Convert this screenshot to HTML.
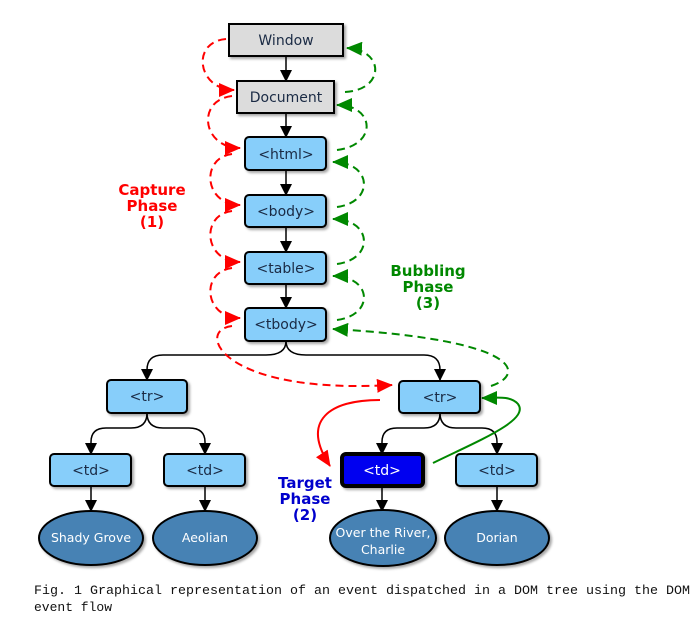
<!DOCTYPE html>
<html><head><meta charset="utf-8"><style>
body{margin:0;background:#fff;width:697px;height:622px;overflow:hidden}
svg{display:block}
.b{font-family:"DejaVu Sans","Liberation Sans",sans-serif;font-size:14px;fill:#1a2a44;text-anchor:middle}
.e{font-family:"DejaVu Sans","Liberation Sans",sans-serif;font-size:12.5px;fill:#fff;text-anchor:middle}
.ph{font-family:"DejaVu Sans","Liberation Sans",sans-serif;font-size:15px;font-weight:bold;text-anchor:middle}
.cap{font-family:"Liberation Mono",monospace;font-size:13px;fill:#111}
</style></head><body>
<svg width="697" height="622" viewBox="0 0 697 622">
<defs>
<marker id="ak" markerWidth="12" markerHeight="12" refX="11" refY="6" orient="auto" markerUnits="userSpaceOnUse"><path d="M0,0 L12,6 L0,12z" fill="#000"/></marker>
<marker id="ar" markerWidth="16" markerHeight="14" refX="15" refY="7" orient="auto" markerUnits="userSpaceOnUse"><path d="M0,0 L16,7 L0,14z" fill="#f00"/></marker>
<marker id="ag" markerWidth="16" markerHeight="14" refX="15" refY="7" orient="auto" markerUnits="userSpaceOnUse"><path d="M0,0 L16,7 L0,14z" fill="#080"/></marker>
<filter id="sh" x="-10%" y="-10%" width="130%" height="140%"><feDropShadow dx="2" dy="2" stdDeviation="1.2" flood-color="#000" flood-opacity="0.35"/></filter>
</defs>
<g stroke="#000" stroke-width="1.5" fill="none" marker-end="url(#ak)">
<path d="M286 56 L286 81"/><path d="M286 113 L286 137"/><path d="M286 170 L286 195"/><path d="M286 227 L286 252"/><path d="M286 284 L286 308"/>
<path d="M286 341 Q286 355 266 355 L163 355 Q147 355 147 370 L147 380"/>
<path d="M286 341 Q286 355 306 355 L424 355 Q440 355 440 370 L440 380"/>
<path d="M147 413 Q147 428 131 428 L106 428 Q91 428 91 442 L91 454"/>
<path d="M147 413 Q147 428 163 428 L189 428 Q205 428 205 442 L205 454"/>
<path d="M440 413 Q440 428 424 428 L397 428 Q382 428 382 442 L382 454"/>
<path d="M440 413 Q440 428 456 428 L482 428 Q497 428 497 442 L497 454"/>
<path d="M91 486 L91 511"/><path d="M205 486 L205 511"/><path d="M382 487 L382 511"/><path d="M497 486 L497 511"/>
</g>
<g stroke="#f00" stroke-width="2" fill="none" stroke-dasharray="8,5" marker-end="url(#ar)">
<path d="M226 39 C190 42 198 90 234 90"/>
<path d="M232 96 C196 100 202 148 240 148"/>
<path d="M232 154 C200 158 204 205 240 205"/>
<path d="M232 211 C200 215 204 262 240 262"/>
<path d="M232 268 C200 272 204 318 240 318"/>
<path d="M232 326 C195 330 220 395 392 385"/>
</g>
<path d="M380 400 C330 400 300 420 330 466" stroke="#f00" stroke-width="2" fill="none" marker-end="url(#ar)"/>
<g stroke="#080" stroke-width="2" fill="none" stroke-dasharray="8,5" marker-end="url(#ag)">
<path d="M345 92 C385 90 385 50 347 48"/>
<path d="M337 150 C378 145 375 105 337 105"/>
<path d="M337 207 C375 202 372 162 333 162"/>
<path d="M337 264 C375 259 372 219 333 219"/>
<path d="M337 320 C375 315 372 276 333 276"/>
<path d="M491 386 C525 375 525 340 333 329"/>
</g>
<path d="M433 463 C480 440 530 420 518 404 C510 395 495 398 482 398" stroke="#080" stroke-width="2" fill="none" marker-end="url(#ag)"/>
<g stroke="#000" stroke-width="2" filter="url(#sh)">
<rect x="229" y="24" width="114" height="32" fill="#dcdcdc"/>
<rect x="237" y="81" width="97" height="32" fill="#dcdcdc"/>
<g fill="#87cefa">
<rect x="245" y="137" width="81" height="33" rx="4"/>
<rect x="245" y="195" width="81" height="32" rx="4"/>
<rect x="245" y="252" width="81" height="32" rx="4"/>
<rect x="245" y="308" width="81" height="33" rx="4"/>
<rect x="107" y="380" width="80" height="33" rx="4"/>
<rect x="399" y="381" width="81" height="32" rx="4"/>
<rect x="50" y="454" width="81" height="32" rx="4"/>
<rect x="164" y="454" width="81" height="32" rx="4"/>
<rect x="456" y="454" width="81" height="32" rx="4"/>
</g>
<rect x="342" y="454" width="81" height="32" rx="4" fill="#0000f0" stroke-width="4"/>
<g fill="#4682b4">
<ellipse cx="91" cy="538" rx="52" ry="27"/>
<ellipse cx="205" cy="538" rx="52" ry="27"/>
<ellipse cx="383" cy="538" rx="53" ry="28"/>
<ellipse cx="497" cy="538" rx="52" ry="27"/>
</g>
</g>
<text class="b" x="286" y="45">Window</text>
<text class="b" x="286" y="102">Document</text>
<text class="b" x="286" y="159">&lt;html&gt;</text>
<text class="b" x="286" y="216">&lt;body&gt;</text>
<text class="b" x="286" y="273">&lt;table&gt;</text>
<text class="b" x="286" y="329">&lt;tbody&gt;</text>
<text class="b" x="147" y="401">&lt;tr&gt;</text>
<text class="b" x="440" y="402">&lt;tr&gt;</text>
<text class="b" x="91" y="475">&lt;td&gt;</text>
<text class="b" x="205" y="475">&lt;td&gt;</text>
<text class="b" x="382" y="475" style="fill:#fff">&lt;td&gt;</text>
<text class="b" x="497" y="475">&lt;td&gt;</text>
<text class="e" x="91" y="542">Shady Grove</text>
<text class="e" x="205" y="542">Aeolian</text>
<text class="e" x="383" y="537">Over the River,</text>
<text class="e" x="383" y="554">Charlie</text>
<text class="e" x="497" y="542">Dorian</text>
<g class="ph" fill="#f00"><text x="152" y="195">Capture</text><text x="152" y="211">Phase</text><text x="152" y="227">(1)</text></g>
<g class="ph" fill="#080"><text x="428" y="276">Bubbling</text><text x="428" y="292">Phase</text><text x="428" y="308">(3)</text></g>
<g class="ph" fill="#00c"><text x="305" y="488">Target</text><text x="305" y="504">Phase</text><text x="305" y="520">(2)</text></g>
<text class="cap" x="34" y="594" textLength="656" lengthAdjust="spacingAndGlyphs">Fig. 1 Graphical representation of an event dispatched in a DOM tree using the DOM</text>
<text class="cap" x="34" y="611">event flow</text>
</svg>
</body></html>
